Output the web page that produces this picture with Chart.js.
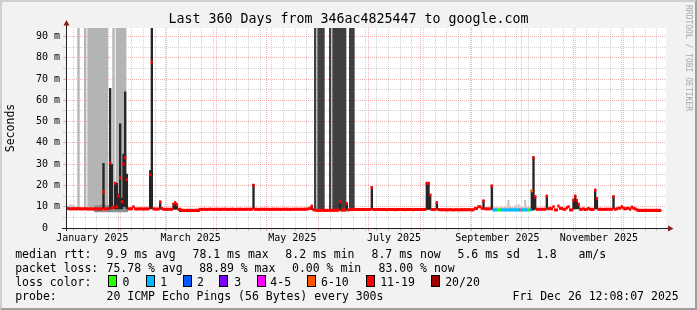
<!DOCTYPE html>
<html>
<head>
<meta charset="utf-8">
<title>Last 360 Days from 346ac4825447 to google.com</title>
<script src="https://cdn.jsdelivr.net/npm/chart.js@4.4.1/dist/chart.umd.min.js"></script>
<style>
  html, body { margin: 0; padding: 0; background: #f2f2f2; }
  #graph { position: relative; width: 697px; height: 310px; overflow: hidden; background: #f2f2f2;
           font-family: "DejaVu Sans Mono", monospace; color: #000; }
  #chart { position: absolute; left: 0; top: 0; }
  #frame { position: absolute; left: 0; top: 0; width: 697px; height: 310px; box-sizing: border-box;
           border-top: 2px solid #cfcfcf; border-left: 2px solid #cfcfcf;
           border-right: 2px solid #9e9e9e; border-bottom: 2px solid #9e9e9e; pointer-events: none; }
  #title { position: absolute; left: 0; top: 11px; width: 697px; text-align: center;
           font-size: 13.3px; line-height: 16px; white-space: pre; }
  #mark { position: absolute; left: 684px; top: 5px; writing-mode: vertical-rl; font-size: 8px;
          line-height: 8px; color: #a8a8a8; white-space: pre; }
  .t { position: absolute; font-size: 11.5px; line-height: 14px; white-space: pre; }
  .box { position: absolute; top: 275px; width: 7px; height: 10px; border: 1px solid #000; }
</style>
</head>
<body>
<div id="graph">
  <canvas id="chart" width="697" height="310"></canvas>
  <div id="title">Last 360 Days from 346ac4825447 to google.com</div>
  <div id="mark">RRDTOOL / TOBI OETIKER</div>

  <span class="t" style="left:15.2px;top:247px">median rtt:</span>
  <span class="t" style="left:106.5px;top:247px">9.9 ms avg</span>
  <span class="t" style="left:192.5px;top:247px">78.1 ms max</span>
  <span class="t" style="left:285.3px;top:247px">8.2 ms min</span>
  <span class="t" style="left:371.5px;top:247px">8.7 ms now</span>
  <span class="t" style="left:457.5px;top:247px">5.6 ms sd</span>
  <span class="t" style="left:536px;top:247px">1.8</span>
  <span class="t" style="left:578.5px;top:247px">am/s</span>

  <span class="t" style="left:15.2px;top:261px">packet loss:</span>
  <span class="t" style="left:106.5px;top:261px">75.78 % avg</span>
  <span class="t" style="left:199.2px;top:261px">88.89 % max</span>
  <span class="t" style="left:292px;top:261px">0.00 % min</span>
  <span class="t" style="left:378.5px;top:261px">83.00 % now</span>

  <span class="t" style="left:15.2px;top:275px">loss color:</span>
  <span class="box" style="left:108px;background:#26ff00"></span><span class="t" style="left:122.5px;top:275px">0</span>
  <span class="box" style="left:145.5px;background:#00b8ff"></span><span class="t" style="left:160.2px;top:275px">1</span>
  <span class="box" style="left:182.5px;background:#0059ff"></span><span class="t" style="left:197px;top:275px">2</span>
  <span class="box" style="left:219px;background:#7e00ff"></span><span class="t" style="left:234.2px;top:275px">3</span>
  <span class="box" style="left:256.5px;background:#ff00ff"></span><span class="t" style="left:270.3px;top:275px">4-5</span>
  <span class="box" style="left:306.5px;background:#ff5500"></span><span class="t" style="left:321px;top:275px">6-10</span>
  <span class="box" style="left:365.5px;background:#ff0000"></span><span class="t" style="left:380.2px;top:275px">11-19</span>
  <span class="box" style="left:430.5px;background:#a10000"></span><span class="t" style="left:445.2px;top:275px">20/20</span>

  <span class="t" style="left:15.2px;top:289px">probe:</span>
  <span class="t" style="left:106.5px;top:289px">20 ICMP Echo Pings (56 Bytes) every 300s</span>
  <span class="t" style="left:512.5px;top:289px">Fri Dec 26 12:08:07 2025</span>

  <div id="frame"></div>
</div>

<script>
// x axis = days since Dec 31 2024 12:08 (360 days up to Dec 26 2025 12:08)
const monthStartDays = [0.494, 31.494, 59.494, 90.494, 120.494, 151.494, 181.494, 212.494, 243.494, 273.494, 304.494, 334.494]
const firstSunday = 4.494
const monthLabels = ["January 2025", "March 2025", "May 2025", "July 2025", "September 2025", "November 2025"]
const monthLabelDays = [15.79, 74.79, 135.79, 196.79, 258.79, 319.79]
const yTickValues = [0, 5, 10, 15, 20, 25, 30, 35, 40, 45, 50, 55, 60, 65, 70, 75, 80, 85, 90]

// median rtt (ms), one value per day
const medianMs = [
  9.2, 9.1, 9.0, 9.0, 9.1, 9.0, 9.0, 9.1, 9.0, 9.0,
  9.0, 9.1, 9.0, 8.9, 9.0, 9.0, 8.9, 9.0, 9.0, 8.9,
  9.0, 8.9, 17.0, 9.0, 9.0, 9.1, 30.5, 9.5, 9.7, 21.0,
  10.0, 15.0, 23.6, 12.3, 30.0, 33.0, 22.7, 9.0, 9.0, 9.1,
  10.0, 9.0, 8.9, 9.0, 9.0, 9.0, 8.9, 9.0, 9.0, 9.0,
  25.0, 78.0, 9.0, 8.9, 8.9, 8.9, 12.3, 9.2, 8.8, 8.8,
  8.8, 8.8, 8.8, 8.8, 11.2, 11.9, 11.0, 8.8, 8.8, 8.3,
  8.3, 8.2, 8.3, 8.3, 8.2, 8.3, 8.2, 8.3, 8.3, 8.4,
  8.8, 8.7, 8.8, 8.8, 8.7, 8.8, 8.8, 8.8, 8.7, 8.8,
  8.8, 8.8, 8.7, 8.8, 8.8, 8.8, 8.8, 8.7, 8.8, 8.8,
  8.8, 8.7, 8.8, 8.8, 8.8, 8.8, 8.7, 8.8, 8.8, 8.8,
  8.8, 8.8, 20.0, 8.8, 8.8, 8.7, 8.8, 8.8, 8.8, 8.8,
  8.8, 8.8, 8.7, 8.8, 8.8, 8.8, 8.8, 8.8, 8.7, 8.8,
  8.8, 8.8, 8.8, 8.8, 8.7, 8.8, 8.8, 8.8, 8.8, 8.8,
  8.8, 8.8, 8.8, 8.8, 8.9, 9.0, 9.3, 10.3, 8.6, 8.4,
  8.3, 8.3, 8.3, 8.3, 8.3, 8.3, 8.3, 8.3, 8.3, 8.3,
  8.3, 8.3, 8.3, 8.4, 12.3, 8.4, 8.4, 8.4, 11.5, 8.5,
  8.7, 8.7, 8.7, 8.7, 8.7, 8.7, 8.7, 8.7, 8.7, 8.7,
  8.7, 8.7, 8.7, 18.9, 8.7, 8.7, 8.7, 8.7, 8.7, 8.7,
  8.7, 8.7, 8.6, 8.7, 8.7, 8.7, 8.7, 8.6, 8.7, 8.7,
  8.7, 8.7, 8.7, 8.6, 8.7, 8.7, 8.7, 8.7, 8.6, 8.7,
  8.7, 8.7, 8.7, 8.7, 8.7, 8.7, 21.0, 21.0, 15.5, 8.7,
  8.7, 8.7, 11.9, 8.7, 8.6, 8.6, 8.6, 8.6, 8.5, 8.6,
  8.6, 8.6, 8.5, 8.6, 8.6, 8.5, 8.6, 8.6, 8.6, 8.6,
  8.6, 8.6, 8.6, 8.5, 8.6, 9.2, 9.2, 10.0, 10.0, 9.2,
  12.7, 9.0, 9.0, 9.0, 9.0, 19.7, 8.5, 8.5, 8.5, 8.5,
  8.5, 8.5, 8.5, 8.5, 8.5, 8.5, 8.5, 8.5, 8.5, 8.5,
  8.5, 8.5, 8.5, 8.5, 8.5, 8.5, 8.5, 8.5, 8.5, 17.5,
  33.0, 14.7, 8.8, 8.8, 8.8, 8.8, 8.8, 8.8, 15.0, 9.0,
  9.2, 9.0, 10.0, 8.5, 8.5, 10.3, 9.2, 9.2, 8.8, 8.8,
  9.5, 10.0, 8.5, 8.5, 13.1, 15.0, 13.0, 11.2, 8.8, 8.8,
  9.0, 8.7, 8.8, 9.2, 8.8, 8.7, 8.8, 17.8, 13.9, 8.8,
  8.8, 8.8, 8.7, 8.8, 8.8, 8.8, 8.8, 8.8, 14.7, 8.8,
  9.0, 9.3, 9.3, 10.0, 9.3, 9.0, 9.2, 9.3, 8.8, 9.8,
  9.3, 9.0, 8.6, 8.3, 8.3, 8.3, 8.3, 8.3, 8.3, 8.3,
  8.3, 8.3, 8.3, 8.3, 8.3, 8.3, 8.3
]

// loss band per day where it is not 11-19 (0:"0" 1:"1" 2:"2" 3:"3" 4:"4-5" 5:"6-10" 6:"11-19" 7:"20/20")
const lowLossDays = [256, 257, 258, 259, 260, 261, 262, 263, 264, 265, 266, 267, 268, 269, 270, 271, 272, 273, 274, 275, 276, 277, 278, 279]
const lowLossBand = [1, 1, 1, 0, 0, 1, 1, 1, 1, 1, 1, 1, 1, 1, 1, 1, 5, 1, 1, 1, 1, 0, 1, 5]

// dense smoke (ms)
const smokeDays = [22, 26, 27, 29, 30, 31, 32, 33, 34, 35, 36, 50, 51, 56, 64, 65, 66,
  68, 69, 70, 71, 72, 73, 74, 75, 76, 77, 78, 79, 112, 147, 164, 168, 183, 216, 217, 218, 222,
  250, 255, 279, 280, 281, 288, 304, 305, 306, 307, 317, 318, 328,
  343, 344, 345, 346, 347, 348, 349, 350, 351, 352, 353, 354, 355, 356]
const smokeLow = [9, 9, 9, 9, 9, 9, 9, 9, 10, 10, 9, 9, 9, 8.8, 8.8, 8.8, 8.8,
  7.7, 7.7, 7.7, 7.7, 7.7, 7.7, 7.7, 7.7, 7.7, 7.7, 7.7, 7.7, 8.8, 8.6, 8.3, 8.3, 8.7, 8.7, 8.7, 8.7, 8.7,
  8.8, 8.7, 8.4, 8.4, 8.8, 8.8, 8.8, 9, 9, 9, 8.9, 8.9, 8.9,
  7.8, 7.8, 7.8, 7.8, 7.8, 7.8, 7.8, 7.8, 7.8, 7.8, 7.8, 7.8, 7.8, 7.8]
const smokeHigh = [30.4, 65.6, 30, 21.5, 21, 16, 49, 14, 34.7, 64, 25.3, 27, 94, 12.5, 11.5, 12.1, 11.2,
  8.8, 8.8, 8.8, 8.8, 8.8, 8.8, 8.8, 8.8, 8.8, 8.8, 8.8, 8.8, 20.6, 10.5, 12.5, 11.7, 19.4, 21.3, 21.3, 15.8, 12.1,
  13.1, 20.2, 17.7, 33.5, 15, 15.2, 13.5, 15.2, 13.5, 11.5, 18, 14.2, 15,
  8.3, 8.3, 8.3, 8.3, 8.3, 8.3, 8.3, 8.3, 8.3, 8.3, 8.3, 8.3, 8.3, 8.3]

// medium smoke (ms)
const midDays = [17, 18, 19, 20, 21, 22, 23, 24, 25, 26, 27, 28, 29, 30, 31, 32, 33, 34, 35, 36]
const midLow = [7.6, 7.6, 7.6, 7.6, 7.6, 7.6, 7.6, 7.6, 7.6, 7.6, 7.6, 7.6, 7.6, 7.6, 7.6, 7.6, 7.6, 7.6, 7.6, 7.6]
const midHigh = [10.4, 10.6, 10.4, 10.6, 10.8, 10.6, 10.6, 10.4, 10.6, 10.8, 10.6, 10.6, 10.8, 10.6, 10.6, 10.8, 10.6, 10.8, 10.6, 10.4]

// light smoke (ms)
const lightDays = [0, 1, 2, 3, 4, 5, 256, 257, 258, 259, 260, 261, 262, 263, 264, 265, 266, 267,
  268, 269, 270, 271, 272, 273, 274, 275, 276, 277, 278]
const lightLow = [8.6, 8.6, 8.6, 8.6, 8.6, 8.6, 8.2, 8.2, 8.2, 8.2, 8.2, 8.2, 8.2, 8.2, 8.2, 8.2, 8.2, 8.2,
  8.2, 8.2, 8.2, 8.2, 8.2, 8.2, 8.2, 8.2, 8.2, 8.2, 8.2]
const lightHigh = [10.2, 10.4, 10.8, 10.8, 10.6, 10.0, 9.6, 9.6, 9.6, 9.4, 9.6, 9.6, 9.6, 9.6, 9.6, 13, 9.8, 9.6,
  9.6, 10.5, 9.6, 11, 9.6, 9.6, 9.6, 13, 9.8, 9.6, 9.6]

// days where the smoke runs off the top of the graph
const lightColumnDays = [7, 11, 13, 14, 15, 16, 17, 18, 19, 20, 21, 22, 23, 24, 28, 30, 31, 32, 33, 34, 35]
const darkColumnDays = [149, 151, 152, 153, 154, 158, 160, 161, 162, 163, 164, 165, 166, 167, 170, 171, 172]

const Y_TOP = 94
const LOSS_COLORS = ["#26ff00", "#00b8ff", "#0059ff", "#7e00ff", "#ff00ff", "#ff5500", "#ff0000", "#a10000"]
const MAJOR_GRID = "rgba(222, 79, 79, 0.42)"
const MINOR_GRID = "rgba(140, 140, 140, 0.4)"
const FONT = "'DejaVu Sans Mono', monospace"

function lossBandOf(day) {
  const k = lowLossDays.indexOf(day)
  return k >= 0 ? lowLossBand[k] : 6
}

function ranges(days, low, high) {
  return days.map((d, k) => ({ x: d + 0.5, y: [low[k], high[k]] }))
}

// x ticks: month starts (major), sundays (minor), mid-month labels
const xTicks = []
monthStartDays.forEach((d) => xTicks.push({ value: d, kind: "major" }))
for (let d = firstSunday; d < 360; d += 7) {
  if (!monthStartDays.some((m) => Math.abs(m - d) < 0.01)) xTicks.push({ value: d, kind: "minor" })
}
monthLabelDays.forEach((d, i) => xTicks.push({ value: d, kind: "label", text: monthLabels[i] }))
xTicks.sort((a, b) => a.value - b.value)

function xGridColor(c) {
  if (!c.tick) return MINOR_GRID
  if (c.tick.kind === "label") return "rgba(0,0,0,0)"
  return c.tick.kind === "major" ? MAJOR_GRID : MINOR_GRID
}

function yGridColor(c) {
  if (!c.tick) return MINOR_GRID
  return c.tick.value % 10 === 0 ? MAJOR_GRID : MINOR_GRID
}

// white canvas + axis lines with arrows like rrdtool
const rrdFrame = {
  id: "rrdFrame",
  beforeDraw(chart) {
    const { ctx, chartArea: a } = chart
    ctx.save()
    ctx.fillStyle = "#ffffff"
    ctx.fillRect(a.left, a.top, a.right - a.left, a.bottom - a.top)
    ctx.restore()
  },
  afterDraw(chart) {
    const { ctx, chartArea: a } = chart
    const x0 = a.left + 0.5
    const y0 = a.bottom + 0.5
    ctx.save()
    ctx.strokeStyle = "#1f1f1f"
    ctx.lineWidth = 1
    ctx.beginPath()
    ctx.moveTo(a.left - 4, y0)
    ctx.lineTo(a.right + 3, y0)
    ctx.moveTo(x0, a.bottom + 3)
    ctx.lineTo(x0, a.top - 3)
    ctx.stroke()
    ctx.fillStyle = "#801f1f"
    ctx.beginPath()
    ctx.moveTo(a.right + 2, y0 - 3)
    ctx.lineTo(a.right + 7.5, y0)
    ctx.lineTo(a.right + 2, y0 + 3)
    ctx.closePath()
    ctx.fill()
    ctx.beginPath()
    ctx.moveTo(x0 - 3, a.top - 2.5)
    ctx.lineTo(x0, a.top - 8)
    ctx.lineTo(x0 + 3, a.top - 2.5)
    ctx.closePath()
    ctx.fill()
    ctx.restore()
  },
}

document.addEventListener("DOMContentLoaded", () => {
  const bar = { type: "bar", grouped: false, barThickness: 1.7, borderWidth: 0 }

  new Chart(document.getElementById("chart"), {
    type: "bar",
    data: {
      datasets: [
        {
          ...bar,
          label: "median rtt",
          data: medianMs.map((v, i) => ({ x: i + 0.5, y: [v - 0.55, v + 0.55] })),
          backgroundColor: medianMs.map((v, i) => LOSS_COLORS[lossBandOf(i)]),
          order: 1,
        },
        { ...bar, label: "smoke", data: ranges(smokeDays, smokeLow, smokeHigh), backgroundColor: "#262626", order: 2 },
        { ...bar, label: "smoke mid", data: ranges(midDays, midLow, midHigh), backgroundColor: "#8f8f8f", order: 3 },
        { ...bar, label: "smoke light", data: ranges(lightDays, lightLow, lightHigh), backgroundColor: "#c8c8c8", order: 4 },
        {
          ...bar,
          label: "smoke off scale",
          data: darkColumnDays.map((d) => ({ x: d + 0.5, y: [8.5, Y_TOP] })),
          backgroundColor: "#404040",
          order: 5,
        },
        {
          ...bar,
          label: "smoke off scale light",
          data: lightColumnDays.map((d) => ({ x: d + 0.5, y: [8.5, Y_TOP] })),
          backgroundColor: "#b4b4b4",
          order: 6,
        },
      ],
    },
    options: {
      responsive: false,
      maintainAspectRatio: false,
      devicePixelRatio: 1,
      animation: false,
      events: [],
      layout: { autoPadding: false, padding: { top: 28, right: 31, bottom: 62, left: 0 } },
      plugins: {
        legend: { display: false },
        tooltip: { enabled: false },
        title: { display: false },
      },
      scales: {
        x: {
          type: "linear",
          min: 0,
          max: 360,
          offset: false,
          z: 1,
          grid: { offset: false, color: xGridColor, tickColor: xGridColor, tickLength: 3, lineWidth: 1 },
          border: { display: false, dash: [1, 1] },
          afterBuildTicks: (s) => {
            s.ticks = xTicks.map((t) => ({ ...t }))
          },
          afterFit: (s) => {
            s.height = 20
          },
          ticks: {
            autoSkip: false,
            maxRotation: 0,
            minRotation: 0,
            padding: 1,
            color: "#000",
            font: { family: FONT, size: 10 },
            callback: (v, i, ticks) => ticks[i].text || "",
          },
        },
        y: {
          type: "linear",
          min: 0,
          max: Y_TOP,
          z: 1,
          grid: { color: yGridColor, tickColor: yGridColor, tickLength: 3, lineWidth: 1 },
          border: { display: false, dash: [1, 1] },
          afterBuildTicks: (s) => {
            s.ticks = yTickValues.map((v) => ({ value: v }))
          },
          afterFit: (s) => {
            s.width = 66
          },
          ticks: {
            autoSkip: false,
            padding: 3,
            color: "#000",
            font: { family: FONT, size: 10 },
            callback: (v) => (v === 0 ? "0  " : v % 10 === 0 ? v + " m" : ""),
          },
          title: {
            display: true,
            text: "Seconds",
            color: "#000",
            font: { family: FONT, size: 11.5 },
            padding: { top: 4.5, bottom: 0 },
          },
        },
      },
    },
    plugins: [rrdFrame],
  })
})
</script>
</body>
</html>
